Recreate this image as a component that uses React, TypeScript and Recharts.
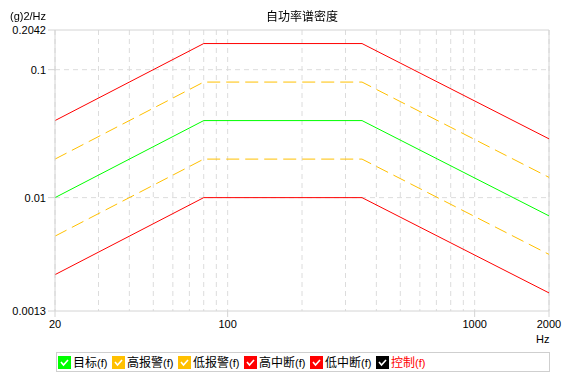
import React from 'react';
import { LineChart, Line, XAxis, YAxis, CartesianGrid, ReferenceLine } from 'recharts';

const freqs = [20, 80, 350, 2000];
const target = [0.01, 0.04, 0.04, 0.0072];
const highAlarm = [0.02, 0.08, 0.08, 0.0144];
const lowAlarm = [0.005, 0.02, 0.02, 0.0036];
const highAbort = [0.04, 0.16, 0.16, 0.0288];
const lowAbort = [0.0025, 0.01, 0.01, 0.0018];

const xTicks = [20, 100, 1000, 2000];
const yTicks = [0.0013, 0.01, 0.1, 0.2042];
const gridX = [20, 30, 40, 50, 60, 70, 80, 90, 100, 200, 300, 400, 500, 600, 700, 800, 900, 1000, 2000];
const gridY = [0.01, 0.1];

const legendItems = [
  { name: '目标', color: '#00ff00', text: '#000' },
  { name: '高报警', color: '#ffc000', text: '#000' },
  { name: '低报警', color: '#ffc000', text: '#000' },
  { name: '高中断', color: '#ff0000', text: '#000' },
  { name: '低中断', color: '#ff0000', text: '#000' },
  { name: '控制', color: '#000000', text: '#ff0000' },
];

const data = freqs.map((f, i) => ({
  f,
  target: target[i],
  highAlarm: highAlarm[i],
  lowAlarm: lowAlarm[i],
  highAbort: highAbort[i],
  lowAbort: lowAbort[i],
}));

const axisColor = '#d4d4d4';
const tickStyle = { fontSize: 11, fill: '#000', fontFamily: '"Liberation Sans", Arial, sans-serif' };

function CheckBox({ color }: { color: string }) {
  return (
    <svg width={13} height={13} style={{ display: 'block', flex: 'none' }}>
      <rect x={0} y={0} width={13} height={13} fill={color} />
      <polyline points="3,6 5.5,9 10,4" fill="none" stroke="#fff" strokeWidth={1.6} />
    </svg>
  );
}

export default function App() {
  return (
    <div style={{ position: 'fixed', left: 0, top: 0, width: 579, height: 373, background: '#fff', fontFamily: '"Liberation Sans", Arial, sans-serif' }}>
      <LineChart width={579} height={373} data={data} margin={{ top: 30, right: 30, bottom: 32, left: 0 }}>
        <CartesianGrid stroke="#dcdcdc" strokeDasharray="5 4" verticalValues={gridX} horizontalValues={gridY} />
        <XAxis
          dataKey="f"
          type="number"
          scale="log"
          domain={[20, 2000]}
          ticks={xTicks}
          interval={0}
          allowDataOverflow
          stroke={axisColor}
          tick={tickStyle}
          tickSize={6}
          tickMargin={3}
          height={30}
        />
        <YAxis
          type="number"
          scale="log"
          domain={[0.0013, 0.2042]}
          ticks={yTicks}
          interval={0}
          allowDataOverflow
          stroke={axisColor}
          tick={tickStyle}
          tickSize={7}
          tickMargin={2}
          width={55}
        />
        <ReferenceLine y={0.2042} stroke={axisColor} />
        <ReferenceLine x={2000} stroke={axisColor} />
        <Line dataKey="highAbort" stroke="#ff0000" strokeWidth={1} dot={false} isAnimationActive={false} />
        <Line dataKey="highAlarm" stroke="#ffc000" strokeWidth={1} strokeDasharray="13 6" dot={false} isAnimationActive={false} />
        <Line dataKey="target" stroke="#00ff00" strokeWidth={1} dot={false} isAnimationActive={false} />
        <Line dataKey="lowAlarm" stroke="#ffc000" strokeWidth={1} strokeDasharray="13 6" dot={false} isAnimationActive={false} />
        <Line dataKey="lowAbort" stroke="#ff0000" strokeWidth={1} dot={false} isAnimationActive={false} />
      </LineChart>
      <div style={{ position: 'absolute', left: 0, width: 604, top: 9, textAlign: 'center', fontSize: 12, fontFamily: '"Noto Sans CJK SC", sans-serif', lineHeight: '14px' }}>
        自功率谱密度
      </div>
      <div style={{ position: 'absolute', left: 10, top: 10, fontSize: 11, lineHeight: '13px' }}>(g)2/Hz</div>
      <div style={{ position: 'absolute', left: 536, top: 333, fontSize: 11, lineHeight: '13px' }}>Hz</div>
      <div style={{ position: 'absolute', left: 56, top: 352, width: 491, height: 18, border: '1px solid #cfcfcf', display: 'flex', alignItems: 'center', paddingLeft: 1 }}>
        {legendItems.map((it) => (
          <div key={it.name} style={{ display: 'flex', alignItems: 'center', width: 30 + 12 * it.name.length, flex: 'none' }}>
            <CheckBox color={it.color} />
            <span style={{ marginLeft: 2, fontSize: 12, color: it.text, fontFamily: '"Noto Sans CJK SC", sans-serif', lineHeight: '14px', whiteSpace: 'nowrap' }}>
              {it.name}
              <span style={{ fontFamily: '"Liberation Sans", Arial, sans-serif', fontSize: 11 }}>(f)</span>
            </span>
          </div>
        ))}
      </div>
    </div>
  );
}
